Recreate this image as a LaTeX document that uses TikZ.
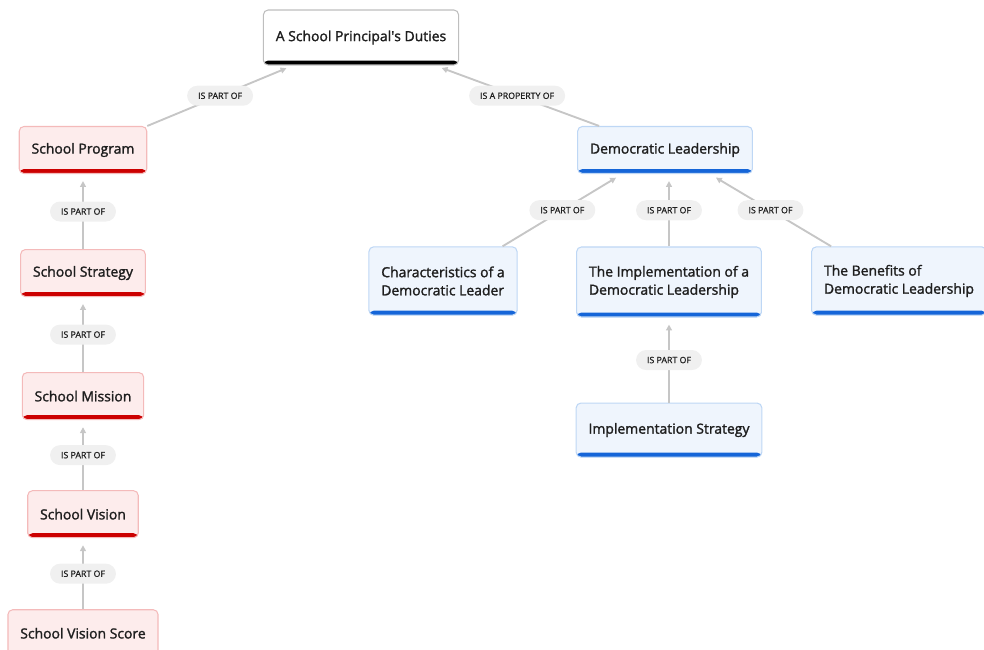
\documentclass[tikz,border=0pt]{standalone}
\usepackage{fontspec}
\setmainfont{Open Sans}
\newfontfamily\topicfont{Open Sans}[FakeBold=1.6]
\newfontfamily\labelfont{Open Sans}[FakeBold=1.0]
\usetikzlibrary{%
	calc,%
	arrows.meta,%
	positioning,%
}
\definecolor{cred}{RGB}{204, 0, 0}
\definecolor{credlight}{RGB}{253, 236, 236}
\definecolor{credborder}{RGB}{244, 186, 186}
\definecolor{cblue}{RGB}{21, 101, 216}
\definecolor{cbluelight}{RGB}{239, 245, 253}
\definecolor{cblueborder}{RGB}{190, 215, 245}
\definecolor{cgreyline}{RGB}{198, 198, 198}
\definecolor{cgreylabel}{RGB}{240, 240, 240}
\definecolor{cgreyborder}{RGB}{190, 190, 190}
\definecolor{ctext}{RGB}{30, 30, 30}
\tikzset{
	>={Triangle[length=5pt,width=5pt]},%
	topicnode/.style={%
			rectangle,%
			draw,%
			line width=0.9pt,%
			rounded corners=4pt,%
			inner xsep=0.37cm,%
			text=ctext,%
			font={\topicfont\fontsize{11.9}{15.5}\selectfont},%
			align=left,%
			minimum height=1.41cm,%
			path picture={\fill[#1] ([yshift=3.8pt]path picture bounding box.south west) rectangle (path picture bounding box.south east);}},%
	rootnode/.style={topicnode=black, fill=white, draw=cgreyborder, minimum height=1.65cm},%
	redtopic/.style={topicnode=cred, fill=credlight, draw=credborder},%
	bluetopic/.style={topicnode=cblue, fill=cbluelight, draw=cblueborder},%
	linklabel/.style={%
			fill=cgreylabel,%
			rounded corners=0.3cm,%
			text=ctext,%
			font={\labelfont\fontsize{7.5}{8}\selectfont},%
			inner xsep=0.33cm,%
			minimum height=0.6cm},%
	link/.style={->, draw=cgreyline, line width=1.6pt, shorten >=6pt},%
}

\begin{document}
\begin{tikzpicture}[x=0.03cm, y=-0.03cm]%
	\useasboundingbox (0,0) rectangle (984,650);

	\node[rootnode] (root) at (361,37.5) {A School Principal\textquotesingle s Duties};

	\node[redtopic] (prog) at (83,150) {School Program};
	\node[redtopic] (strat) [below=2.25cm of prog] {School Strategy};
	\node[redtopic] (miss) [below=2.25cm of strat] {School Mission};
	\node[redtopic] (vis) [below=2.1cm of miss] {School Vision};
	\node[redtopic] (score) [below=2.13cm of vis] {School Vision Score};

	\node[bluetopic] (dl) at (665,150) {Democratic Leadership};
	\node[bluetopic, minimum height=2.05cm] (chars) at (443,281) {Characteristics of a\\Democratic Leader};
	\node[bluetopic, minimum height=2.1cm] (impl) at (669,282) {The Implementation of a\\Democratic Leadership};
	\node[bluetopic, minimum height=2.05cm] (bene) at (899,281) {The Benefits of\\Democratic Leadership};
	\node[bluetopic, minimum height=1.62cm] (istrat) [below=2.55cm of impl] {Implementation Strategy};

	\draw[link] (prog.north east) -- node[linklabel] (l1) {IS PART OF} ($(root.south west)+(30,0)$);
	\draw[link] ($(dl.north west)+(22,0)$) -- node[linklabel] (l2) {IS A PROPERTY OF} ($(root.south east)+(-24,0)$);
	\draw[link] (strat) -- node[linklabel] (l3) {IS PART OF} (prog);
	\draw[link] (miss) -- node[linklabel] (l4) {IS PART OF} (strat);
	\draw[link] (vis) -- node[linklabel] (l5) {IS PART OF} (miss);
	\draw[link] (score) -- node[linklabel] (l6) {IS PART OF} (vis);
	\draw[link] ($(chars.north east)+(-15,0)$) -- node[linklabel] (l7) {IS PART OF} ($(dl.south west)+(45,0)$);
	\draw[link] (impl.north) -- node[linklabel] (l8) {IS PART OF} (impl.north |- dl.south);
	\draw[link] ($(bene.north west)+(20,0)$) -- node[linklabel] (l9) {IS PART OF} ($(dl.south east)+(-43,0)$);
	\draw[link] (istrat) -- node[linklabel] (l10) {IS PART OF} (impl);
\end{tikzpicture}
\end{document}
